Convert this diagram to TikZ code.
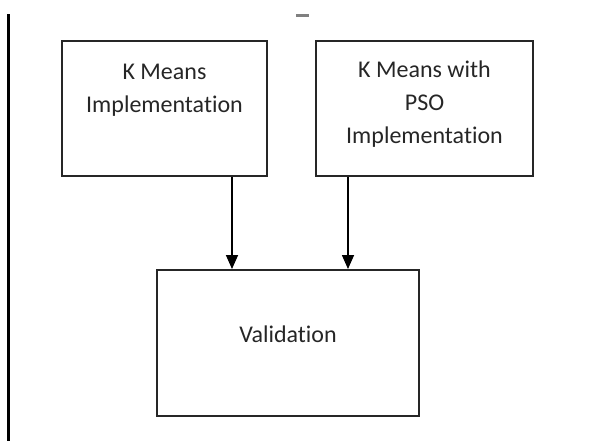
\documentclass[tikz,border=0pt]{standalone}
\usepackage{fontspec}
\setmainfont{Carlito}[Ligatures=NoCommon]
\usetikzlibrary{positioning,arrows.meta}

\tikzset{
  blockbox/.style={draw=black!85, line width=1pt, rectangle, inner sep=0pt},
  blocktext/.style={align=center, inner sep=0pt, font=\fontsize{12}{16.6}\selectfont, text=black!85},
  flowarrow/.style={-{Triangle[width=6pt,length=7pt]}, line width=0.8pt},
}

\begin{document}
\begin{tikzpicture}[x=0.5pt, y=-0.5pt]
    \useasboundingbox (0,0) rectangle (590,441);

    % page rule and mark
    \draw[line width=1.5pt] (8,14) -- (8,441);
    \draw[gray, line width=1.5pt] (296,15) -- (309,15);

    \node[blockbox, minimum width=102.5pt, minimum height=67.5pt] (kmeans) at (164.5,108.5) {};
    \node[blockbox, minimum width=108.5pt, minimum height=67.5pt] (kmpso) at (424.5,108.5) {};
    \node[blockbox, minimum width=131pt, minimum height=73pt] (valid) at (288,343) {};

    \node[blocktext, below=11.75pt of kmeans.north] (kmeanstext) {K Means\\Implementation};
    \node[blocktext, below=10.25pt of kmpso.north] (kmpsotext) {K Means with\\PSO\\Implementation};
    \node[blocktext, below=28.2pt of valid.north] (validtext) {Validation};

    \draw[flowarrow] ([xshift=-18pt]kmeans.south east) -- ([xshift=-18pt]kmeans.south east |- valid.north);
    \draw[flowarrow] ([xshift=16.5pt]kmpso.south west) -- ([xshift=16.5pt]kmpso.south west |- valid.north);
\end{tikzpicture}
\end{document}
